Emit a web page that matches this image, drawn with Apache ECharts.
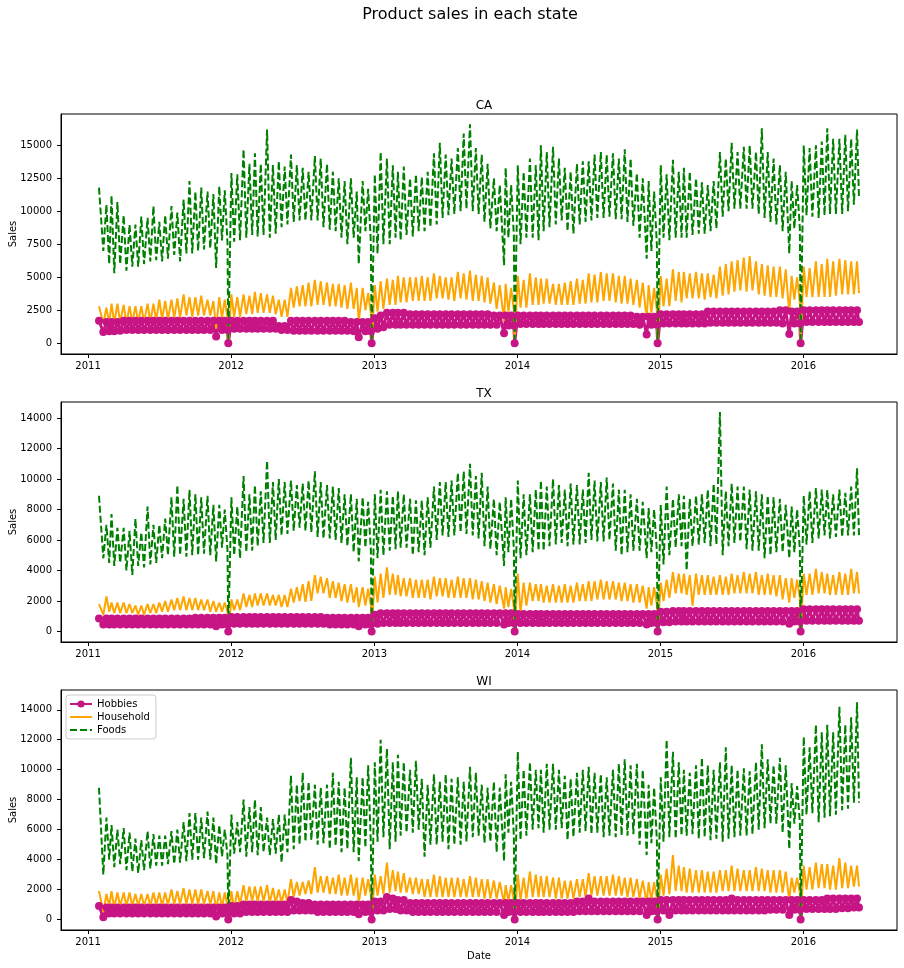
<!DOCTYPE html>
<html>
<head>
<meta charset="utf-8">
<script src="https://cdn.jsdelivr.net/npm/echarts@6/dist/echarts.min.js"></script>
<style>
  html, body { margin: 0; padding: 0; background: #fff; }
  #chart { width: 904px; height: 968px; }
</style>
</head>
<body>
<div id="chart"></div>
<script>
// ---- Values: four readings per month (high, low, high, low), Feb 2011 .. May 2016 ----
const seriesNames = ['Hobbies', 'Household', 'Foods'];
const states = ['CA', 'TX', 'WI'];
const thanksgivingDates = ['2011-11-24', '2012-11-22', '2013-11-28', '2014-11-27', '2015-11-26'];
const christmasDates = ['2011-12-25', '2012-12-25', '2013-12-25', '2014-12-25', '2015-12-25'];
const christmasSales = [0, 0, 0, 0, 0];
const firstDate = '2011-01-29';
const lastDate = '2016-05-22';

const caHobbies = [
  1700,850,1600,900, 1600,900,1600,950, 1700,1000,1700,1000, 1700,1000,1700,1000, 1700,1000,1700,1000, 1700,1000,1700,1000, 1700,1000,1700,1000, 1700,1000,1700,1000, 1700,1000,1700,1000, 1700,1000,1700,500, 1700,1000,1700,1000,
  1700,1100,1700,1100, 1700,1100,1700,1100, 1700,1100,1700,1100, 1700,1100,1700,1100, 1300,1000,1300,1000, 1700,950,1700,950, 1700,950,1700,950, 1700,950,1700,950, 1700,950,1700,950, 1700,950,1700,950, 1600,900,1600,450, 1600,900,1600,900,
  1900,1100,2100,1200, 2300,1400,2300,1400, 2300,1400,2300,1400, 2200,1400,2200,1400, 2200,1400,2200,1400, 2200,1400,2200,1400, 2200,1400,2200,1400, 2200,1400,2200,1400, 2200,1400,2200,1400, 2200,1400,2200,1400, 2100,1400,2100,750, 2100,1350,2100,1350,
  2100,1450,2100,1450, 2100,1450,2100,1450, 2100,1450,2100,1450, 2100,1450,2100,1450, 2100,1450,2100,1450, 2100,1450,2100,1450, 2100,1450,2100,1450, 2100,1450,2100,1450, 2100,1450,2100,1450, 2100,1450,2100,1450, 2000,1400,2000,650, 2000,1400,2000,1400,
  2200,1500,2200,1500, 2200,1500,2200,1500, 2200,1500,2200,1500, 2200,1500,2200,1500, 2400,1550,2400,1550, 2400,1550,2400,1550, 2400,1550,2400,1550, 2400,1550,2400,1550, 2400,1550,2400,1550, 2400,1550,2400,1550, 2500,1500,2500,700, 2400,1500,2400,1500,
  2500,1600,2500,1600, 2500,1600,2500,1600, 2500,1600,2500,1600, 2500,1600,2500,1600, 2500,1600,2500,1600
];
const caHousehold = [
  2800,1500,2700,1500, 3000,1500,3000,1600, 2900,1500,2800,1600, 2800,1600,2800,1600, 3000,1600,3000,1700, 3300,1800,3200,1800, 3300,1900,3400,1900, 3700,2100,3500,2000, 3500,2100,3600,2100, 3300,2100,3200,1100, 3500,1900,3300,1900,
  3700,2000,3500,2000, 3700,2200,3600,2200, 3900,2300,3800,2300, 3700,2300,3600,2200, 3300,2000,3300,2000, 4200,2700,4300,2800, 4400,2800,4600,2800, 4800,2900,4700,2900, 4600,2800,4500,2800, 4500,2700,4400,2600, 4600,2600,4200,1600, 4200,2500,3800,2300,
  4400,2400,4700,2600, 4900,2900,4800,2900, 5100,3100,5000,3100, 5000,3200,5000,3200, 5100,3200,5000,3200, 5300,3400,5100,3400, 5000,3300,5000,3200, 5400,3400,5300,3300, 5500,3200,5200,3200, 5100,3100,5000,3000, 4600,2600,4400,1700, 4500,2400,4200,2500,
  5100,2700,4800,2700, 5300,2900,5000,2900, 4900,3000,4900,3000, 4500,2900,4500,2900, 4600,2900,4700,2900, 4900,3000,4800,3000, 5300,3100,5200,3100, 5400,3200,5300,3200, 5300,3100,5100,3000, 5100,3000,4900,2900, 4800,2700,4600,1800, 4400,2300,4200,2500,
  5100,2800,4900,2800, 5600,3200,5400,3100, 5400,3400,5300,3400, 5400,3400,5300,3300, 5300,3500,5200,3400, 5800,3600,6000,3700, 6200,3900,6300,4000, 6500,3900,6600,4000, 6200,3700,6000,3600, 5900,3500,5800,3500, 5800,3400,5600,2200, 5100,3300,5000,3100,
  5800,3500,5700,3500, 6200,3500,6000,3500, 6400,3500,6200,3600, 6400,3700,6300,3700, 6200,3700,6200,3800
];
const caFoods = [
  11800,7000,10500,6000, 11200,5300,10700,6000, 9700,5500,9000,5800, 9000,5800,9600,6000, 9500,6200,10400,6300, 9200,6200,9700,6400, 10400,6700,9900,6200, 10900,6800,12300,6800, 11500,7000,11800,7100, 11500,7200,11300,5700, 11900,7800,11600,7600,
  12900,7700,12800,7800, 14700,8000,13600,8200, 14400,8100,13600,8200, 16200,8000,13500,8300, 13800,8800,13400,9000, 14300,9200,13500,9300, 13300,9300,13000,9300, 14200,9300,14000,8800, 13600,8600,13000,8500, 12500,8000,12300,7500, 12500,8000,11500,6000, 12300,8500,11700,7600,
  12800,6800,14500,7500, 14000,7500,13500,8000, 13000,7800,13400,8200, 12500,8100,12800,8500, 12600,8500,13000,8800, 14400,9000,15200,9500, 14300,9700,14000,9800, 14800,10000,15900,10200, 16600,10000,14800,9800, 14300,9200,13600,8700, 12500,8500,12000,5900, 13300,8000,12000,8200,
  13500,7500,13000,8000, 14000,8000,13500,7800, 15000,8500,14500,8800, 14900,9000,14000,9300, 13300,8500,13000,8300, 13600,9000,13800,9200, 13800,9300,14300,9500, 14500,9500,14300,9600, 14400,9400,14000,9400, 14700,9200,14000,8900, 12900,8000,12500,6400, 12300,7000,11500,7500,
  13500,8000,12800,7800, 13900,8000,13000,8000, 13300,8000,13000,8200, 12500,8300,12200,8300, 12000,8500,12300,8700, 14500,9600,14000,10000, 15200,10200,14500,10200, 14900,10200,15000,10200, 14500,9800,16300,9500, 14500,9200,14000,9000, 13500,8500,13000,6800, 12300,8700,12000,8700,
  15000,9700,14800,9600, 15000,9500,15300,9700, 16300,9800,15500,9800, 15500,9800,15800,10000, 15500,10500,16200,11000
];

const txHobbies = [
  850,450,850,450, 850,450,850,450, 850,450,850,450, 850,450,850,450, 850,450,850,450, 850,450,850,450, 850,450,850,450, 850,450,850,450, 900,450,900,450, 900,450,900,350, 900,450,900,450,
  950,500,950,500, 950,500,950,500, 950,500,950,500, 950,500,950,500, 950,500,950,500, 950,500,950,500, 950,500,950,500, 950,500,950,500, 900,450,900,450, 900,450,900,450, 900,450,900,350, 900,450,900,450,
  1100,500,1200,550, 1200,550,1200,550, 1200,550,1200,550, 1200,550,1200,550, 1200,550,1200,550, 1200,550,1200,550, 1200,550,1200,550, 1200,550,1200,550, 1200,550,1200,550, 1200,550,1200,550, 1200,550,1200,450, 1200,550,1200,550,
  1150,550,1150,550, 1150,550,1150,550, 1150,550,1150,550, 1150,550,1150,550, 1150,550,1150,550, 1150,550,1150,550, 1150,550,1150,550, 1150,550,1150,550, 1150,550,1150,550, 1150,550,1150,550, 1150,550,1150,450, 1150,550,1150,550,
  1300,600,1300,600, 1350,650,1350,650, 1350,650,1350,650, 1350,650,1350,650, 1350,650,1350,650, 1350,650,1350,650, 1350,650,1350,650, 1350,650,1350,650, 1350,650,1350,650, 1350,650,1350,650, 1350,650,1350,500, 1350,650,1350,650,
  1450,700,1450,700, 1450,700,1450,700, 1450,700,1450,700, 1450,700,1450,700, 1450,700,1450,700
];
const txHousehold = [
  1800,1100,2300,1300, 1900,1200,1900,1200, 1900,1200,1800,1200, 1700,1100,1700,1100, 1800,1200,1800,1200, 1900,1300,2000,1300, 2100,1400,2200,1400, 2300,1400,2200,1400, 2200,1400,2100,1400, 2100,1300,2000,1300, 1900,1300,1900,1300,
  2100,1400,2100,1400, 2500,1600,2400,1600, 2500,1700,2500,1700, 2500,1700,2400,1700, 2400,1600,2400,1600, 2800,1900,2900,2000, 3100,1950,3300,2000, 3700,2500,3600,2500, 3500,2200,3300,2200, 3200,2000,3100,1900, 3100,1900,2900,1600, 2900,1700,2800,1700,
  3600,1900,3800,2200, 4200,2400,3800,2400, 3700,2300,3500,2300, 3500,2200,3400,2200, 3400,2200,3400,2100, 3600,2300,3500,2300, 3500,2200,3400,2200, 3600,2200,3500,2200, 3500,2100,3400,2100, 3300,2000,3200,1900, 3100,1800,3000,1500, 2900,1600,2800,1600,
  3800,1200,3200,1700, 3200,2000,3100,2000, 3100,1900,3000,1900, 3100,1900,3000,1900, 3100,1900,3000,1900, 3200,2000,3100,2000, 3300,2000,3300,2100, 3400,2100,3300,2100, 3300,2100,3200,2000, 3200,2000,3100,1900, 3100,1900,3000,1500, 2900,1700,2900,1800,
  3200,2000,3400,2200, 3900,2500,3800,2500, 3800,2400,3700,1700, 3800,2400,3700,2400, 3700,2400,3600,2400, 3700,2400,3600,2400, 3800,2500,3700,2500, 3900,2500,3800,2500, 3900,2400,3700,2400, 3800,2400,3700,2300, 3700,2100,3500,1900, 3500,2200,3400,2200,
  3800,2400,3800,2400, 4100,2500,3900,2500, 3800,2400,3700,2400, 3900,2400,3800,2400, 4100,2500,3900,2500
];
const txFoods = [
  8900,4800,7000,4500, 7700,4300,6800,4500, 6800,4000,6600,3700, 7400,4300,6500,4200, 8200,4400,7000,4500, 7000,4800,7400,5000, 8800,4900,9600,5000, 8700,4900,9300,5000, 9000,5000,8800,5100, 8900,5000,8300,4600, 8300,5500,8000,5300,
  8800,5000,8200,4800, 10200,5200,9000,5300, 9600,5600,9200,5800, 11200,5800,9800,6000, 10000,6300,9800,6400, 9900,6600,9600,6800, 9700,6600,9900,6500, 10500,6200,9800,6100, 9600,6100,9500,6000, 9400,5800,9000,5600, 9000,5200,8700,4600, 8800,5500,8500,5300,
  9000,4800,9300,5000, 9200,5300,8900,5400, 9200,5500,9000,5500, 8700,5000,8600,5200, 8600,5000,8800,5500, 9500,6000,9800,6300, 9800,6200,9900,6300, 10400,6500,10500,6400, 11000,6300,10200,6100, 10400,5600,9500,5400, 8700,5000,8500,4300, 8800,5200,8700,5400,
  9900,4800,9000,5000, 9000,5200,9300,5300, 9900,5300,9500,5600, 10000,5700,9600,5800, 9300,5600,9700,5700, 9600,5700,9300,5800, 10400,6000,9900,5900, 9800,5900,10100,6000, 9700,5300,9300,5000, 9300,5200,9000,5300, 8700,5300,8500,4800, 8100,5200,8000,5300,
  8300,4400,9500,5000, 8700,5500,9000,5600, 8900,4000,8700,5600, 8900,5700,9000,5800, 9300,5600,9700,5700, 14400,5000,9200,5600, 9700,5800,9500,5900, 9500,5400,9300,5300, 9200,5300,9000,4800, 8900,5000,8800,5200, 8700,5200,8300,4800, 8200,5200,8000,5400,
  8900,5700,9200,5800, 9400,6100,9300,6300, 9300,6100,9000,6200, 9300,6200,9100,6300, 9500,6300,10700,6300
];

const wiHobbies = [
  900,150,800,400, 800,400,800,400, 800,400,800,400, 800,400,800,400, 800,400,800,400, 800,400,800,400, 800,400,800,400, 800,400,800,400, 800,400,800,400, 800,400,800,200, 800,400,800,400,
  900,400,900,400, 1000,500,1000,500, 1000,500,1000,500, 1000,500,1000,500, 1000,500,1000,500, 1300,600,1200,600, 1100,600,1100,600, 1000,500,1000,500, 1000,500,1000,500, 1000,500,1000,500, 1000,500,1000,350, 1000,500,1000,500,
  1200,600,1200,600, 1500,700,1400,700, 1300,600,1300,600, 1100,500,1100,500, 1100,500,1100,500, 1100,500,1100,500, 1100,500,1100,500, 1100,500,1100,500, 1100,500,1100,500, 1100,500,1100,500, 1100,500,1100,300, 1100,500,1100,500,
  1100,500,1100,500, 1100,500,1100,500, 1100,500,1100,500, 1100,500,1100,500, 1100,500,1100,500, 1200,550,1200,550, 1400,550,1200,550, 1200,550,1200,550, 1200,550,1200,550, 1200,550,1200,550, 1200,550,1200,300, 1200,550,1200,550,
  1300,600,1300,300, 1300,600,1300,600, 1300,600,1300,600, 1300,600,1300,600, 1300,600,1300,600, 1300,600,1300,600, 1400,600,1300,600, 1300,600,1300,600, 1300,600,1300,600, 1300,650,1300,650, 1300,650,1300,300, 1300,650,1300,650,
  1300,700,1300,700, 1300,700,1300,700, 1400,700,1400,700, 1400,750,1400,750, 1400,800,1400,800
];
const wiHousehold = [
  1900,500,1700,900, 1900,800,1800,900, 1800,900,1800,900, 1700,900,1700,900, 1700,900,1800,950, 1800,900,1800,950, 2000,1000,1900,1000, 2100,1000,2000,1000, 2000,1000,2000,1000, 1900,1000,1900,700, 1800,800,1800,900,
  1900,700,1900,1000, 2300,1200,2200,1200, 2200,1200,2200,1200, 2300,1100,2100,1100, 2000,1100,2000,1100, 2700,1500,2500,1600, 2500,1700,2600,1700, 3500,1800,2900,1800, 2900,1700,2800,1700, 3000,1600,2800,1600, 3000,1600,2800,1100, 2800,1600,2700,1600,
  3000,1600,2900,1700, 3800,1800,3300,1900, 3200,1800,3100,1800, 2800,1700,2800,1700, 2700,1500,2700,1500, 3000,1500,2900,1500, 2800,1500,2800,1500, 2800,1500,2700,1500, 2900,1500,2800,1500, 2700,1400,2700,1400, 2600,1400,2500,1100, 2300,1200,2300,1300,
  3000,1300,2800,1400, 3200,1500,3000,1500, 2900,1500,2900,1500, 2800,1400,2800,1400, 2600,1400,2600,1400, 2700,1500,2700,1500, 3100,1600,2900,1600, 2900,1600,2900,1600, 3000,1600,2900,1600, 2800,1500,2800,1500, 2700,1400,2600,1100, 2500,1300,2500,1400,
  3000,1600,3400,1700, 4300,1900,3600,1900, 3500,1800,3400,1800, 3300,1800,3300,1800, 3200,1800,3200,1800, 3300,1900,3300,1900, 3600,1900,3400,1900, 3300,1900,3300,1900, 3500,1900,3400,1900, 3300,1800,3300,1800, 3300,1800,3200,1300, 2800,1800,2800,1800,
  3600,2000,3500,2000, 3800,2100,3700,2100, 3700,2000,3600,2000, 4100,2100,3800,2100, 3600,2200,3600,2200
];
const wiFoods = [
  8800,3000,6800,4000, 6300,3500,6000,3700, 6100,3300,5800,3200, 5400,3100,5300,3300, 5900,3400,5700,3600, 5600,3600,5600,3700, 5900,3700,6000,3800, 6500,3900,7100,4000, 7100,4000,6800,4100, 7200,4000,6800,3700, 6300,4200,6000,4300,
  7000,4400,6500,4500, 8000,4200,7500,4500, 8000,4300,7500,4500, 6800,4300,6700,4400, 7000,3800,7000,4500, 9600,4700,9000,5000, 9800,5200,9200,5300, 9000,5000,8800,5100, 9000,4700,9800,4900, 9200,4500,8800,4700, 10800,4500,9500,3900, 9500,4800,10300,5000,
  10500,5200,12000,5500, 11400,4700,10500,5200, 11000,5600,10500,5800, 10000,5800,10600,6000, 9400,4200,9000,5000, 9700,5000,9200,5200, 9700,4700,9400,5000, 9500,5000,9200,5200, 10200,5500,9800,5600, 9000,5100,8800,5200, 9200,4500,8800,3900, 9700,5800,9200,5600,
  11200,5300,10000,5600, 10500,6000,10000,6100, 10000,5800,10400,6000, 10400,6000,10000,6100, 9600,5300,9400,5500, 9800,5800,10000,5900, 10200,5700,9800,5800, 9700,5500,9500,5600, 10000,5500,10400,5600, 10700,5600,10300,5700, 10400,5000,10000,4300, 9000,5100,8800,5300,
  9500,5200,12000,5500, 11200,5400,10500,5600, 10000,5600,9800,5700, 10300,5400,10800,5500, 10300,5300,10000,5400, 10500,5200,11500,5400, 10300,5500,10000,5600, 10100,5600,9900,5700, 10500,6000,11700,6100, 10700,6400,10300,6400, 10800,5800,10300,4700, 9100,6400,8900,6500,
  12200,7000,11500,7100, 13000,6500,12500,6800, 13000,6900,12500,7000, 14200,7300,13000,7400, 13500,7800,14500,7800
];

const yearTicks = ['2011-01-01', '2012-01-01', '2013-01-01', '2014-01-01', '2015-01-01', '2016-01-01'];
const caYTicks = [0, 2500, 5000, 7500, 10000, 12500, 15000];
const txYTicks = [0, 2000, 4000, 6000, 8000, 10000, 12000, 14000];
const wiYTicks = [0, 2000, 4000, 6000, 8000, 10000, 12000, 14000];

// ---- build ----
function ts(s) { const p = s.split('-').map(Number); return Date.UTC(p[0], p[1] - 1, p[2]); }

function buildPoints(values) {
  const pts = [];
  const nMonths = values.length / 4;
  for (let i = 0; i < nMonths; i++) {
    const y = 2011 + Math.floor((1 + i) / 12);
    const m = (1 + i) % 12;
    const days = m === 11 ? [2, 9, 16, 23] : [2, 9, 17, 24];
    const t = days.map(d => Date.UTC(y, m, d));
    if (m === 10) {
      const tg = thanksgivingDates.find(d => d.startsWith(String(y)));
      if (tg) t[3] = ts(tg);
    }
    if (i === 0) t[0] = ts(firstDate);
    if (i === nMonths - 1) t[3] = ts(lastDate);
    for (let j = 0; j < 4; j++) pts.push([t[j], values[4 * i + j]]);
    if (m === 11) {
      const k = christmasDates.findIndex(d => d.startsWith(String(y)));
      if (k >= 0) pts.push([ts(christmasDates[k]), christmasSales[k]]);
    }
  }
  return pts;
}

const FONT = 'DejaVu Sans';
const colors = { Hobbies: '#C71585', Household: '#FFA500', Foods: '#008000' };
const gridTops = [114, 402, 690];
const yRanges = [[-820, 17380], [-690, 15050], [-700, 15320]];
const yTickSets = [caYTicks, txYTicks, wiYTicks];
const stateData = [
  [caHobbies, caHousehold, caFoods],
  [txHobbies, txHousehold, txFoods],
  [wiHobbies, wiHousehold, wiFoods]
];

const xMin = Date.UTC(2010, 9, 24), xMax = Date.UTC(2016, 7, 27);
const yearTickTs = yearTicks.map(ts);

const grids = [], xAxes = [], yAxes = [], series = [], titles = [];
titles.push({ text: 'Product sales in each state', left: 465, top: 2, textAlign: 'center',
  textStyle: { fontFamily: FONT, fontSize: 16, fontWeight: 'normal', color: '#000' } });

for (let g = 0; g < 3; g++) {
  grids.push({ left: 61, top: gridTops[g], width: 836, height: 240, show: true,
    outerBoundsMode: 'none', containLabel: false,
    borderColor: '#000', borderWidth: 1, backgroundColor: 'transparent' });
  titles.push({ text: states[g], left: 479, top: gridTops[g] - 19, textAlign: 'center',
    textStyle: { fontFamily: FONT, fontSize: 12, fontWeight: 'normal', color: '#000' } });
  xAxes.push({
    type: 'value', gridIndex: g, min: xMin, max: xMax,
    name: g === 2 ? 'Date' : '', nameLocation: 'middle', nameGap: 21, nameMoveOverlap: false,
    nameTextStyle: { fontFamily: FONT, fontSize: 10, color: '#000' },
    axisLine: { show: true, onZero: false, lineStyle: { color: '#000', width: 1 } },
    axisTick: { show: true, length: 4, lineStyle: { color: '#000' }, customValues: yearTickTs },
    axisLabel: { customValues: yearTickTs, fontFamily: FONT, fontSize: 10, color: '#000', margin: 7,
      formatter: v => String(new Date(v).getUTCFullYear()) },
    splitLine: { show: false }
  });
  yAxes.push({
    type: 'value', gridIndex: g, min: yRanges[g][0], max: yRanges[g][1],
    name: 'Sales', nameLocation: 'middle', nameGap: 43, nameMoveOverlap: false,
    nameTextStyle: { fontFamily: FONT, fontSize: 10, color: '#000' },
    axisLine: { show: true, onZero: false, lineStyle: { color: '#000', width: 1 } },
    axisTick: { show: true, length: 4, lineStyle: { color: '#000' }, customValues: yTickSets[g] },
    axisLabel: { customValues: yTickSets[g], fontFamily: FONT, fontSize: 10, color: '#000', margin: 9,
      formatter: v => String(v) },
    splitLine: { show: false }
  });
  const [hob, hh, fd] = stateData[g];
  series.push({
    name: 'Hobbies', type: 'line', xAxisIndex: g, yAxisIndex: g, data: buildPoints(hob),
    symbol: 'circle', symbolSize: 8, showSymbol: true, sampling: 'none',
    itemStyle: { color: colors.Hobbies, borderWidth: 0 },
    lineStyle: { color: colors.Hobbies, width: 3 }, emphasis: { disabled: true }
  });
  series.push({
    name: 'Household', type: 'line', xAxisIndex: g, yAxisIndex: g, data: buildPoints(hh),
    symbol: 'none', sampling: 'none',
    itemStyle: { color: colors.Household },
    lineStyle: { color: colors.Household, width: 2 }, emphasis: { disabled: true }
  });
  series.push({
    name: 'Foods', type: 'line', xAxisIndex: g, yAxisIndex: g, data: buildPoints(fd),
    symbol: 'none', sampling: 'none',
    itemStyle: { color: colors.Foods },
    lineStyle: { color: colors.Foods, width: 2, type: [7, 3] }, emphasis: { disabled: true }
  });
}

const chart = echarts.init(document.getElementById('chart'), null, { renderer: 'canvas' });
chart.setOption({
  animation: false,
  backgroundColor: '#fff',
  title: titles,
  grid: grids,
  xAxis: xAxes,
  yAxis: yAxes,
  legend: {
    data: [
      { name: 'Hobbies', lineStyle: { width: 2 } },
      { name: 'Household', itemStyle: { opacity: 0 } },
      { name: 'Foods', itemStyle: { opacity: 0 } }
    ],
    left: 66, top: 695, orient: 'vertical',
    padding: [4, 6, 4, 3], itemGap: 3, itemWidth: 22, itemHeight: 9,
    textStyle: { fontFamily: FONT, fontSize: 10, color: '#000' },
    borderColor: '#cccccc', borderWidth: 1, borderRadius: 3,
    backgroundColor: 'rgba(255,255,255,0.8)'
  },
  series: series
});
</script>
</body>
</html>
